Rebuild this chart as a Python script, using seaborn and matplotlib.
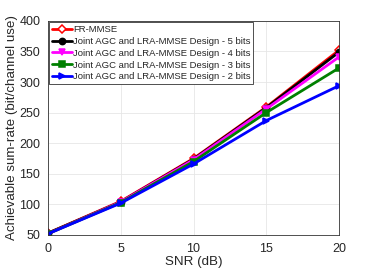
import numpy as np
import pandas as pd
import seaborn as sns
from matplotlib import pyplot as plt

# values
snr = [0, 5, 10, 15, 20]
fr_mmse = [53, 105, 175, 259, 352]
bits5 = [53, 104, 174, 258, 349]
bits4 = [52, 104, 173, 256, 341]
bits3 = [52, 103, 170, 250, 323]
bits2 = [52, 102, 166, 237, 294]

names = ["FR-MMSE",
         "Joint AGC and LRA-MMSE Design - 5 bits",
         "Joint AGC and LRA-MMSE Design - 4 bits",
         "Joint AGC and LRA-MMSE Design - 3 bits",
         "Joint AGC and LRA-MMSE Design - 2 bits"]
series = [fr_mmse, bits5, bits4, bits3, bits2]

df = pd.DataFrame({"snr": snr * len(names),
                   "rate": sum(series, []),
                   "curve": np.repeat(names, len(snr))})

colors = ["#ff0000", "#000000", "#ff00ff", "#008000", "#0000ff"]
markers = ["D", "o", "v", "s", ">"]

sns.set_style("whitegrid")
plt.rcParams["font.family"] = ["Liberation Sans", "DejaVu Sans"]

fig = plt.figure(figsize=(3.75, 2.71), dpi=100)
ax = fig.add_axes([0.128, 0.133, 0.776, 0.790])

sns.lineplot(data=df, x="snr", y="rate", hue="curve", style="curve",
             palette=colors, markers=markers, dashes=False, linewidth=2,
             markersize=4.5, legend=False, ax=ax)

# marker faces in line colour, FR-MMSE open diamond
lines = ax.lines[:len(names)]
for ln, c in zip(lines, colors):
    ln.set_markerfacecolor(c)
    ln.set_markeredgecolor(c)
    ln.set_markeredgewidth(1.1)
lines[0].set_markerfacecolor("white")

ax.set_xlim(0, 20)
ax.set_ylim(50, 400)
ax.set_xticks([0, 5, 10, 15, 20])
ax.set_yticks(range(50, 401, 50))
ax.set_xlabel("SNR (dB)", fontsize=9.6, labelpad=1)
ax.set_ylabel("Achievable sum-rate (bit/channel use)", fontsize=9.6, labelpad=1)
ax.tick_params(labelsize=9, pad=2)
ax.grid(color="#e6e6e6", linewidth=0.6)
for sp in ax.spines.values():
    sp.set_color("#333333")
    sp.set_linewidth(0.6)

leg = ax.legend(lines, names, loc="upper left", fontsize=6.8, frameon=True,
                fancybox=False, framealpha=1, handlelength=2.1,
                handletextpad=0.1, borderpad=0.3, labelspacing=0.3,
                borderaxespad=0.15)
leg.get_frame().set_edgecolor("#333333")
leg.get_frame().set_linewidth(0.6)

fig.savefig("out.png", dpi=100)
